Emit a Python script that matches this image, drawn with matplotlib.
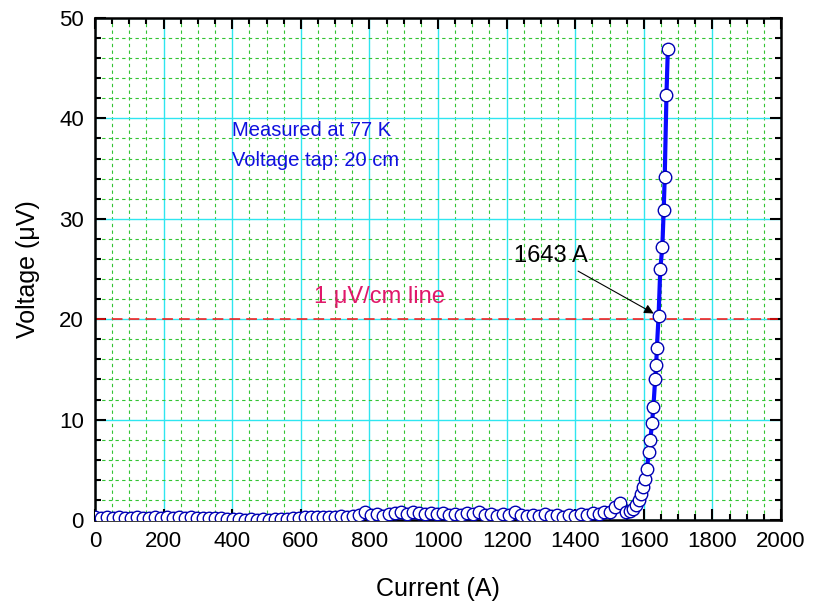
import matplotlib
matplotlib.use("Agg")
import matplotlib.pyplot as plt
from matplotlib.ticker import MultipleLocator

plt.rcParams['font.family'] = ['Liberation Sans', 'DejaVu Sans']

# measured V-I data (current in A, voltage in uV)
current = [0, 18, 35, 52, 70, 88, 105, 122, 140, 158, 175, 192, 210, 228, 245,
           262, 280, 298, 315, 332, 350, 368, 385, 402, 420, 438, 455, 472, 490,
           508, 525, 542, 560, 578, 595, 612, 630, 648, 665, 682, 700, 718, 735,
           752, 770, 788, 805, 822, 840, 858, 875, 892, 910, 928, 945, 962, 980,
           998, 1015, 1032, 1050, 1068, 1085, 1102, 1120, 1138, 1155, 1172, 1190,
           1208, 1225, 1242, 1260, 1278, 1295, 1312, 1330, 1348, 1365, 1382, 1400,
           1418, 1435, 1452, 1470, 1485, 1500, 1516, 1531, 1548, 1560, 1569, 1578,
           1586, 1592, 1597, 1603, 1609, 1615, 1619, 1624, 1628, 1633, 1636, 1638,
           1643, 1648, 1654, 1658, 1661, 1666, 1670]
voltage = [0.3, 0.2, 0.3, 0.2, 0.3, 0.25, 0.2, 0.3, 0.25, 0.2, 0.3, 0.2, 0.3, 0.25,
           0.3, 0.2, 0.3, 0.25, 0.2, 0.2, 0.25, 0.2, 0.15, 0.1, 0.1, 0.05, 0.1,
           0.05, 0.1, 0.05, 0.1, 0.1, 0.15, 0.2, 0.25, 0.3, 0.35, 0.3, 0.3, 0.35,
           0.3, 0.4, 0.35, 0.4, 0.5, 0.8, 0.5, 0.6, 0.4, 0.6, 0.7, 0.8, 0.6, 0.8,
           0.7, 0.6, 0.7, 0.6, 0.7, 0.5, 0.6, 0.5, 0.7, 0.6, 0.8, 0.5, 0.6, 0.4,
           0.6, 0.5, 0.8, 0.5, 0.4, 0.5, 0.4, 0.6, 0.4, 0.5, 0.3, 0.5, 0.4, 0.6,
           0.5, 0.7, 0.6, 0.8, 0.8, 1.3, 1.7, 0.8, 0.9, 1.1, 1.5, 2.0, 2.6, 3.3,
           4.1, 5.1, 6.8, 8.0, 9.7, 11.3, 14.0, 15.4, 17.1, 20.3, 25.0, 27.2, 30.9,
           34.2, 42.3, 46.9]

criterion_v = 20.0     # 1 uV/cm over 20 cm
ic_current = 1643
ic_voltage = 20.3

fig = plt.figure(figsize=(8.15, 6.08), dpi=100)
ax = fig.add_axes([0.1166, 0.1447, 0.8417, 0.8257])

ax.set_xlim(0, 2000)
ax.set_ylim(0, 50)
ax.xaxis.set_major_locator(MultipleLocator(200))
ax.xaxis.set_minor_locator(MultipleLocator(50))
ax.yaxis.set_major_locator(MultipleLocator(10))
ax.yaxis.set_minor_locator(MultipleLocator(2))

ax.grid(which='major', color='#2ee6f0', lw=1.0, ls='-')
ax.grid(which='minor', color='#33c433', lw=0.8, ls=(0, (3, 3)))
ax.set_axisbelow(True)

ax.tick_params(which='both', direction='in', top=True, right=True,
               labelsize=16, width=1.5)
ax.tick_params(which='major', length=8, pad=8)
ax.tick_params(which='minor', length=4)
for s in ax.spines.values():
    s.set_linewidth(1.8)

ax.axhline(criterion_v, color='#ff1010', lw=1.1, ls=(0, (7, 4)), zorder=2)

ax.plot(current, voltage, color='#0a0aff', lw=3, marker='o', ms=9,
        mfc='white', mec='#0000b4', mew=1.0, zorder=3)

ax.text(400, 38.8, 'Measured at 77 K', color='#1010e0', fontsize=14.5,
        va='center')
ax.text(400, 35.8, 'Voltage tap: 20 cm', color='#1010e0', fontsize=14.5,
        va='center')
ax.text(638, 22.2, '1 \u03bcV/cm line', color='#e0186a', fontsize=17,
        va='center')

ax.annotate('%d A' % ic_current, xy=(ic_current, ic_voltage),
            xytext=(1222, 26.3), fontsize=17, va='center',
            arrowprops=dict(arrowstyle='-|>', color='black', lw=0.8,
                            mutation_scale=14, shrinkA=2, shrinkB=4),
            zorder=4)

ax.set_xlabel('Current (A)', fontsize=18, labelpad=18)
ax.set_ylabel('Voltage (\u03bcV)', fontsize=18, labelpad=14)

fig.savefig('out.png', dpi=100)
